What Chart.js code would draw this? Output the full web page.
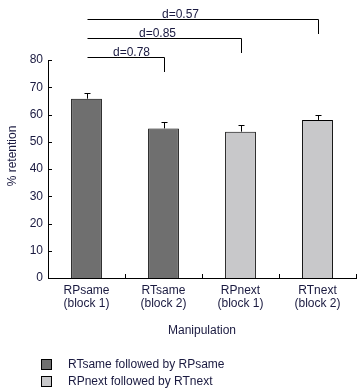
<!DOCTYPE html>
<html>
<head>
<meta charset="utf-8">
<script src="https://cdn.jsdelivr.net/npm/chart.js@4.4.1/dist/chart.umd.min.js"></script>
<style>
  body { margin: 0; background: #fff; }
  canvas { display: block; }
</style>
</head>
<body>
<canvas id="retentionChart" width="363" height="388"></canvas>
<script>
// values
const categories = [['RPsame', '(block 1)'], ['RTsame', '(block 2)'], ['RPnext', '(block 1)'], ['RTnext', '(block 2)']];
const retention = [65.8, 54.9, 53.7, 58.0];
const retentionErr = [2.0, 2.2, 2.3, 1.7];
const barGroup = [0, 0, 1, 1];
const groupLabels = ['RTsame followed by RPsame', 'RPnext followed by RTnext'];
const groupColors = ['#6f6f6f', '#c8c8ca'];
const yTicks = [0, 10, 20, 30, 40, 50, 60, 70, 80];
const compareFrom = [0, 0, 0];
const compareTo = [1, 2, 3];
const compareLabels = ['d=0.78', 'd=0.85', 'd=0.57'];

const textColor = '#1a1a40';
const fontFamily = '"Liberation Sans", Arial, sans-serif';

const extras = {
    id: 'extras',
    afterDatasetsDraw(chart, args, opts) {
        const ctx = chart.ctx;
        const x = chart.scales.x;
        const y = chart.scales.y;
        const area = chart.chartArea;
        const bars = chart.getDatasetMeta(0).data;
        ctx.save();
        ctx.strokeStyle = '#000';
        ctx.lineWidth = 1;

        // error bars, upper half only
        bars.forEach((bar, i) => {
            const cx = Math.round(bar.x) + 0.5;
            const top = Math.round(y.getPixelForValue(retention[i] + retentionErr[i])) + 0.5;
            ctx.beginPath();
            ctx.moveTo(cx, bar.y);
            ctx.lineTo(cx, top);
            ctx.moveTo(cx - 3, top);
            ctx.lineTo(cx + 3, top);
            ctx.stroke();
        });

        // inward tick marks
        ctx.beginPath();
        yTicks.forEach(v => {
            const py = Math.round(y.getPixelForValue(v)) + 0.5;
            ctx.moveTo(area.left, py);
            ctx.lineTo(area.left + 4, py);
        });
        for (let i = 1; i <= categories.length; i++) {
            const px = Math.round(x.getPixelForValue(i - 0.5)) + 0.5;
            ctx.moveTo(px, area.bottom);
            ctx.lineTo(px, area.bottom - 4);
        }
        ctx.stroke();

        // effect size brackets
        ctx.font = '12px ' + fontFamily;
        ctx.fillStyle = textColor;
        ctx.textAlign = 'center';
        ctx.textBaseline = 'alphabetic';
        compareLabels.forEach((label, k) => {
            const x1 = Math.round(bars[compareFrom[k]].x) + 0.5;
            const x2 = Math.round(bars[compareTo[k]].x) + 0.5;
            const ly = Math.round(y.getPixelForValue(opts.levels[k])) + 0.5;
            ctx.beginPath();
            ctx.moveTo(x1, ly);
            ctx.lineTo(x2, ly);
            ctx.lineTo(x2, ly + opts.drop);
            ctx.stroke();
            ctx.fillText(label, x1 + opts.labelX[k], ly - 2);
        });
        ctx.restore();
    },
    afterDraw(chart) {
        const ctx = chart.ctx;
        const area = chart.chartArea;
        ctx.save();
        ctx.font = '12px ' + fontFamily;
        ctx.fillStyle = textColor;
        ctx.textBaseline = 'middle';

        // axis titles
        ctx.textAlign = 'center';
        ctx.fillText('Manipulation', (area.left + area.right) / 2, area.bottom + 53);
        ctx.save();
        ctx.translate(13, area.top + 96);
        ctx.rotate(-Math.PI / 2);
        ctx.fillText('% retention', 0, 0);
        ctx.restore();

        // legend
        ctx.textAlign = 'left';
        ctx.strokeStyle = '#000';
        ctx.lineWidth = 1;
        groupLabels.forEach((label, g) => {
            const top = area.bottom + 81 + g * 17;
            ctx.fillStyle = groupColors[g];
            ctx.fillRect(41.5, top + 0.5, 10, 10);
            ctx.strokeRect(41.5, top + 0.5, 10, 10);
            ctx.fillStyle = textColor;
            ctx.fillText(label, 68, top + 5.5);
        });
        ctx.restore();
    }
};

new Chart(document.getElementById('retentionChart'), {
    type: 'bar',
    data: {
        labels: categories,
        datasets: [{
            data: retention,
            backgroundColor: barGroup.map(g => groupColors[g]),
            borderColor: '#000',
            borderWidth: 1,
            categoryPercentage: 1,
            barPercentage: 0.4
        }]
    },
    options: {
        responsive: false,
        animation: false,
        layout: { padding: { top: 60, right: 7, left: 0, bottom: 0 } },
        plugins: {
            legend: { display: false },
            tooltip: { enabled: false },
            extras: { levels: [81.2, 88.0, 94.9], drop: 14.5, labelX: [44, 70, 93] }
        },
        scales: {
            x: {
                grid: { display: false, drawTicks: false },
                border: { display: true, color: '#000', width: 1 },
                ticks: {
                    color: textColor,
                    padding: 7,
                    font: { family: fontFamily, size: 12, lineHeight: 1.03 }
                },
                afterFit: s => { s.height = 110; }
            },
            y: {
                min: 0,
                max: 80,
                grid: { display: false, drawTicks: false },
                border: { display: true, color: '#000', width: 1 },
                ticks: {
                    color: textColor,
                    padding: 5,
                    font: { family: fontFamily, size: 12 }
                },
                afterBuildTicks: s => { s.ticks = yTicks.map(v => ({ value: v })); },
                afterFit: s => { s.width = 48; }
            }
        }
    },
    plugins: [extras]
});
</script>
</body>
</html>
